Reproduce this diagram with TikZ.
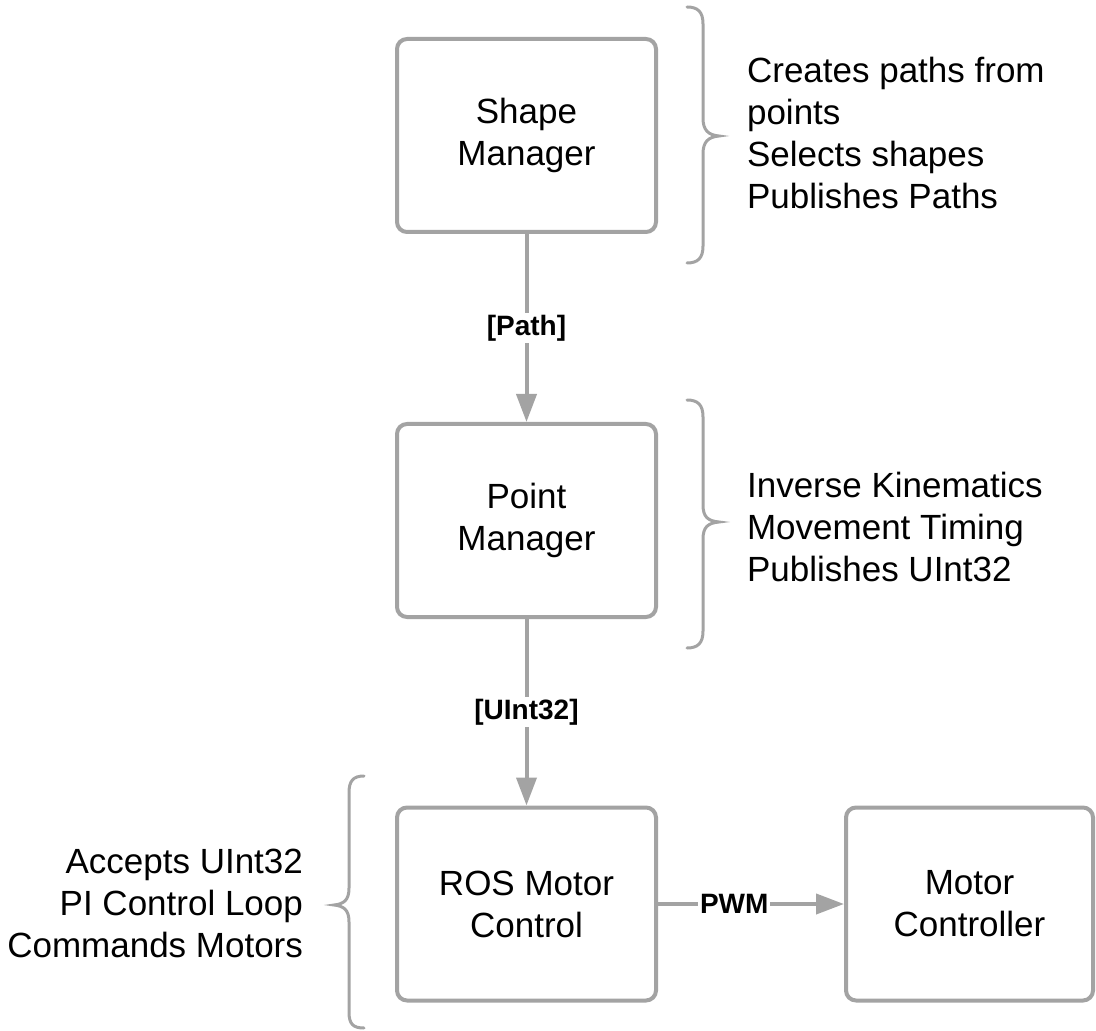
\documentclass[tikz,border=0pt]{standalone}
\usepackage{fontspec}
\setmainfont{Liberation Sans}
\usetikzlibrary{arrows.meta}
\definecolor{linegray}{HTML}{A3A3A3}
\begin{document}
\begin{tikzpicture}[x=0.5pt,y=-0.5pt,
  block/.style={draw=linegray, line width=2pt, rounded corners=5pt,
    minimum width=129.5pt, minimum height=96.5pt, align=center,
    font=\fontsize{17.5}{21}\selectfont, fill=white, inner sep=0pt},
  flow/.style={draw=linegray, line width=2pt,
    -{Triangle[length=14pt,width=10pt]}},
  tag/.style={font=\fontsize{14}{16}\selectfont\bfseries, fill=white, inner sep=1pt},
  note/.style={font=\fontsize{17.5}{21}\selectfont},
  curly/.style={draw=linegray, line width=1.5pt, line cap=round}]
\useasboundingbox (0,0) rectangle (1096,1031);

% processing blocks
\node[block] (shape) at (526.5,135.5) {Shape\\Manager};
\node[block] (point) at (526.5,520.5) {Point\\Manager};
\node[block] (ros)   at (526.5,904)   {ROS Motor\\Control};
\node[block, minimum width=123.5pt] (motor) at (969.5,904) {Motor\\Controller};

% message flow
\draw[flow] (shape) -- node[tag] {[Path]} (point);
\draw[flow] (point) -- node[tag] {[UInt32]} (ros);
\draw[flow] (ros) -- node[tag, pos=0.41] {PWM} (motor);

% braces
\draw[curly] (687,7) .. controls (698,7) and (703,12) .. (703,24) -- (703,118)
  .. controls (703,130) and (708,135) .. (719,136)
  .. controls (708,137) and (703,142) .. (703,154) -- (703,246)
  .. controls (703,258) and (698,263) .. (687,263);
\draw[curly] (687,400) .. controls (698,400) and (703,405) .. (703,417) -- (703,505)
  .. controls (703,517) and (708,521) .. (719,522)
  .. controls (708,523) and (703,527) .. (703,539) -- (703,631)
  .. controls (703,643) and (698,648) .. (687,648);
\draw[curly] (364,776) .. controls (353,776) and (349,781) .. (349,793) -- (349,888)
  .. controls (349,900) and (344,904) .. (334,905)
  .. controls (344,906) and (349,910) .. (349,922) -- (349,1012)
  .. controls (349,1024) and (353,1028) .. (364,1028);

% descriptions
\node[note, anchor=west, align=left] (shapenote) at (740,133)
  {Creates paths from\\points\\Selects shapes\\Publishes Paths};
\node[note, anchor=west, align=left] (pointnote) at (740,527)
  {Inverse Kinematics\\Movement Timing\\Publishes UInt32};
\node[note, anchor=east, align=right] (rosnote) at (310,903)
  {Accepts UInt32\\PI Control Loop\\Commands Motors};
\end{tikzpicture}
\end{document}
